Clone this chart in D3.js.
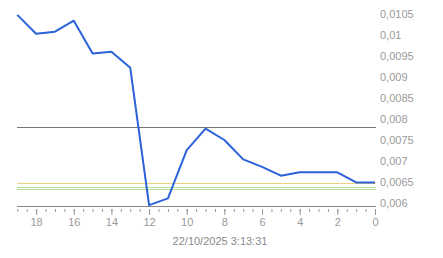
<!DOCTYPE html>
<html>
<head>
<meta charset="utf-8">
<script src="https://cdn.jsdelivr.net/npm/d3@7"></script>
<style>
  body { margin: 0; background: #fff; }
  svg text { font-family: "Liberation Sans", Arial, sans-serif; }
</style>
</head>
<body>
<div id="chart-area"></div>
<script>
// data (x counts down from 19 to 0)
const steps = [19, 18, 17, 16, 15, 14, 13, 12, 11, 10, 9, 8, 7, 6, 5, 4, 3, 2, 1, 0]
const values = [0.01048, 0.01003, 0.01008, 0.01034, 0.00956, 0.00960, 0.00922, 0.00595, 0.00611, 0.00726,
  0.00777, 0.00750, 0.00704, 0.00686, 0.00665, 0.00673, 0.00673, 0.00673, 0.00649, 0.00649]
const yTicks = [0.006, 0.0065, 0.007, 0.0075, 0.008, 0.0085, 0.009, 0.0095, 0.01, 0.0105]
const xLabels = [0, 2, 4, 6, 8, 10, 12, 14, 16, 18]
const refLines = [
  { value: 0.0078, color: "#777777" },
  { value: 0.006483, color: "#ecd27c" },
  { value: 0.006388, color: "#b3dc98" },
  { value: 0.006333, color: "#b3dc98" }
]
const dateLabel = "22/10/2025 3:13:31"

const WIDTH = 443
const HEIGHT = 258

const svg = d3.select("#chart-area").append("svg")
  .attr("width", WIDTH)
  .attr("height", HEIGHT)

const x = d3.scaleLinear()
  .domain([19, 0])
  .range([17.3, 375])

const y = d3.scaleLinear()
  .domain([0.005929, 0.0105])
  .range([206, 14])

// reference lines
svg.selectAll(".ref")
  .data(refLines)
  .enter().append("line")
    .attr("class", "ref")
    .attr("x1", 17)
    .attr("x2", 376)
    .attr("y1", d => Math.round(y(d.value)) + 0.5)
    .attr("y2", d => Math.round(y(d.value)) + 0.5)
    .attr("stroke", d => d.color)
    .attr("stroke-width", 1)
    .attr("shape-rendering", "crispEdges")

// baseline
svg.append("line")
  .attr("x1", 17)
  .attr("x2", 376)
  .attr("y1", 206.5)
  .attr("y2", 206.5)
  .attr("stroke", "#888")
  .attr("shape-rendering", "crispEdges")

// minor ticks every half step
const minorAxis = d3.axisBottom(x)
  .tickValues(d3.range(0, 19.5, 0.5))
  .tickSize(3)
  .tickSizeOuter(0)
  .tickFormat("")
svg.append("g")
  .attr("transform", "translate(0, 209)")
  .call(minorAxis)
  .call(g => g.select(".domain").remove())
  .call(g => g.selectAll("line").attr("stroke", "#999"))

// labelled ticks
const xAxisCall = d3.axisBottom(x)
  .tickValues(xLabels)
  .tickSize(6)
  .tickSizeOuter(0)
  .tickPadding(3)
svg.append("g")
  .attr("transform", "translate(0, 209)")
  .call(xAxisCall)
  .call(g => g.select(".domain").remove())
  .call(g => g.selectAll("line").attr("stroke", "#999"))
  .call(g => g.selectAll("text").attr("fill", "#9a9a9a").attr("font-size", "11px"))

// y labels on the right
const yAxisCall = d3.axisRight(y)
  .tickValues(yTicks)
  .tickSize(0)
  .tickPadding(4)
  .tickFormat(d => String(d).replace(".", ","))
svg.append("g")
  .attr("transform", "translate(376, 0)")
  .call(yAxisCall)
  .call(g => g.select(".domain").remove())
  .call(g => g.selectAll("text").attr("fill", "#9a9a9a").attr("font-size", "11px"))

// series line
const line = d3.line()
  .x((d, i) => x(steps[i]))
  .y(d => y(d))

svg.append("path")
  .datum(values)
  .attr("fill", "none")
  .attr("stroke", "#2b62d9")
  .attr("stroke-width", 2)
  .attr("stroke-linejoin", "round")
  .attr("d", line)

// date label
svg.append("text")
  .attr("x", 220)
  .attr("y", 245)
  .attr("text-anchor", "middle")
  .attr("font-size", "11px")
  .attr("fill", "#8a8a8a")
  .text(dateLabel)
</script>
</body>
</html>
